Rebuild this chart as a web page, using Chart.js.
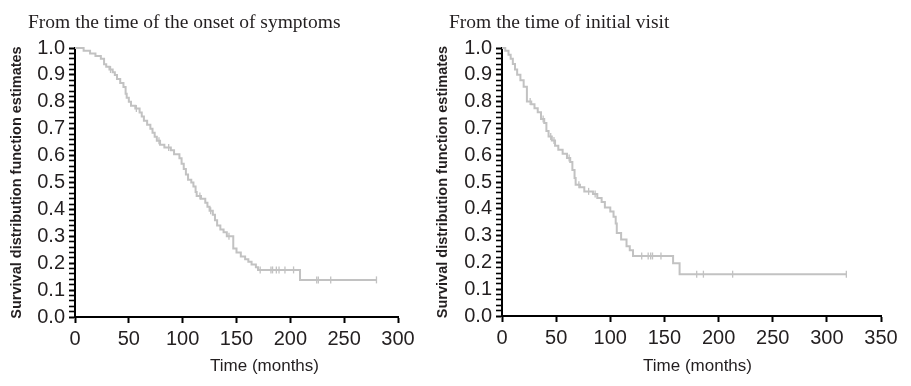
<!DOCTYPE html>
<html>
<head>
<meta charset="utf-8">
<script src="https://cdn.jsdelivr.net/npm/chart.js@4.4.1/dist/chart.umd.min.js"></script>
<style>
  body { margin: 0; background: #fff; width: 911px; height: 386px; position: relative; overflow: hidden; }
  .panel { position: absolute; top: 0; height: 386px; }
  #leftBox { left: 0; width: 430px; }
  #rightBox { left: 430px; width: 481px; }
</style>
</head>
<body>
<div class="panel" id="leftBox"><canvas id="onsetChart" width="430" height="386"></canvas></div>
<div class="panel" id="rightBox"><canvas id="visitChart" width="481" height="386"></canvas></div>
<script>
// Kaplan-Meier steps (time in months, survival after that time)
const onsetTimes = [0, 8, 14, 19, 24, 27, 29, 32, 35, 37, 39, 42, 45, 47, 48, 50, 52, 56, 60, 62, 64, 67, 70, 72, 74, 76, 79, 83, 89, 92, 97, 99, 101, 103, 105, 108, 110, 112, 113, 117, 121, 123, 125, 128, 130, 132, 135, 138, 141, 147, 150, 154, 158, 161, 164, 168, 170, 209, 280];
const onsetSurv = [1.0, 0.99, 0.98, 0.97, 0.96, 0.94, 0.93, 0.92, 0.91, 0.90, 0.885, 0.87, 0.855, 0.83, 0.815, 0.80, 0.785, 0.775, 0.76, 0.745, 0.73, 0.715, 0.70, 0.685, 0.67, 0.655, 0.64, 0.63, 0.62, 0.605, 0.59, 0.57, 0.55, 0.53, 0.51, 0.50, 0.485, 0.465, 0.45, 0.44, 0.425, 0.41, 0.395, 0.38, 0.36, 0.34, 0.325, 0.315, 0.30, 0.255, 0.24, 0.225, 0.215, 0.205, 0.195, 0.185, 0.175, 0.138, 0.138];
const onsetCensor = [33, 57, 78, 87, 116, 126, 143, 172, 182, 183.5, 187, 189.5, 195, 203, 224.5, 226, 237.5, 280];

const visitTimes = [0, 3, 6, 8, 10, 12, 14, 17, 20, 23, 27, 30, 33, 36, 39, 41, 43, 46, 49, 52, 56, 60, 63, 65, 67, 68, 72, 76, 84, 88, 92, 95, 100, 103, 105, 106, 110, 115, 118, 121, 158, 164, 318];
const visitSurv = [1.0, 0.99, 0.975, 0.96, 0.94, 0.92, 0.90, 0.88, 0.855, 0.80, 0.79, 0.775, 0.76, 0.735, 0.72, 0.69, 0.67, 0.655, 0.635, 0.62, 0.605, 0.59, 0.575, 0.545, 0.515, 0.49, 0.48, 0.465, 0.455, 0.44, 0.425, 0.405, 0.39, 0.37, 0.345, 0.31, 0.285, 0.26, 0.245, 0.224, 0.197, 0.156, 0.156];
const visitCensor = [26, 38, 45, 48, 62, 71, 80, 86, 129, 135, 137.3, 139, 146.8, 179.8, 186, 213, 318];

const xTicksOnset = [0, 50, 100, 150, 200, 250, 300];
const xTicksVisit = [0, 50, 100, 150, 200, 250, 300, 350];

const curveColor = '#c2c2c2';
const inkColor = '#231f20';

// survival value in force at time t
function survAt(times, surv, t) {
  let s = surv[0];
  for (let i = 0; i < times.length; i++) {
    if (times[i] <= t) s = surv[i];
  }
  return s;
}

// top title and x title, placed relative to the chart area
const panelText = {
  id: 'panelText',
  afterDraw(chart, args, opts) {
    const { ctx, chartArea } = chart;
    ctx.save();
    ctx.fillStyle = inkColor;
    ctx.textBaseline = 'alphabetic';
    ctx.textAlign = 'left';
    ctx.font = '19.5px "Liberation Serif"';
    ctx.fillText(opts.title, opts.titleX, 28);
    ctx.textAlign = 'center';
    ctx.font = '17px "Liberation Sans"';
    ctx.fillText('Time (months)', (chartArea.left + chartArea.right) / 2 + opts.xTitleShift, 371);
    ctx.restore();
  }
};

function makeChart(id, times, surv, censor, xTicks, cfg) {
  const ctx = document.getElementById(id);
  const steps = times.map((t, i) => ({ x: t, y: surv[i] }));
  const marks = censor.map(t => ({ x: t, y: survAt(times, surv, t) }));
  return new Chart(ctx, {
    type: 'line',
    data: {
      datasets: [{
        data: steps,
        stepped: 'before',
        borderColor: curveColor,
        borderWidth: 2,
        pointRadius: 0,
        clip: false
      }, {
        type: 'scatter',
        data: marks,
        pointStyle: 'line',
        rotation: 90,
        pointRadius: 3.5,
        borderColor: curveColor,
        borderWidth: 1.3,
        backgroundColor: curveColor,
        clip: false
      }]
    },
    options: {
      responsive: false,
      animation: false,
      events: [],
      layout: { padding: { top: 48, right: cfg.padRight, bottom: 0, left: 0 } },
      plugins: {
        legend: { display: false },
        tooltip: { enabled: false },
        panelText: { title: cfg.title, titleX: cfg.titleX, xTitleShift: cfg.xTitleShift }
      },
      scales: {
        x: {
          type: 'linear',
          min: 0,
          max: xTicks[xTicks.length - 1],
          afterBuildTicks: scale => { scale.ticks = xTicks.map(v => ({ value: v })); },
          afterFit: scale => { scale.height = cfg.xHeight; },
          grid: { drawOnChartArea: false, drawTicks: true, tickLength: 6, tickColor: '#000', tickWidth: 2 },
          border: { display: true, color: '#000', width: 2 },
          ticks: { color: inkColor, font: { family: 'Liberation Sans', size: 20 }, padding: 4, maxRotation: 0 }
        },
        y: {
          min: 0,
          max: 1,
          afterFit: scale => { scale.width = cfg.yWidth; },
          grid: {
            drawOnChartArea: false, drawTicks: true, tickLength: 6, tickColor: '#000',
            tickWidth: c => (Math.round(c.tick.value * 100) % 10 === 0 ? 2 : 1.6)
          },
          border: { display: true, color: '#000', width: 2 },
          ticks: {
            stepSize: 0.02,
            autoSkip: false,
            maxTicksLimit: 100,
            padding: 4,
            color: inkColor,
            font: { family: 'Liberation Sans', size: 20 },
            callback: v => (Math.round(v * 100) % 10 === 0 ? v.toFixed(1) : '')
          },
          title: {
            display: true,
            text: 'Survival distribution function estimates',
            color: inkColor,
            font: { family: 'Liberation Sans', size: 14.5, weight: 'bold' },
            padding: { top: cfg.yTitlePad, bottom: 0 }
          }
        }
      }
    },
    plugins: [panelText]
  });
}

makeChart('onsetChart', onsetTimes, onsetSurv, onsetCensor, xTicksOnset, {
  title: 'From the time of the onset of symptoms', titleX: 28, xTitleShift: 28,
  padRight: 32, xHeight: 69, yWidth: 75, yTitlePad: 8
});
makeChart('visitChart', visitTimes, visitSurv, visitCensor, xTicksVisit, {
  title: 'From the time of initial visit', titleX: 19, xTitleShift: 6,
  padRight: 30, xHeight: 70, yWidth: 72, yTitlePad: 4
});
</script>
</body>
</html>
